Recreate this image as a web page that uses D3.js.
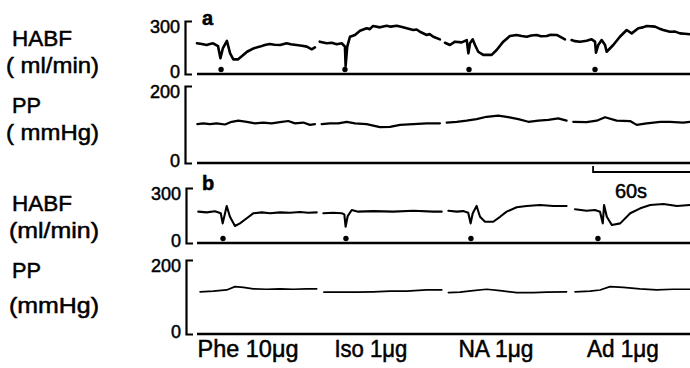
<!doctype html>
<html lang="en">
<head>
<meta charset="utf-8">
<script src="https://d3js.org/d3.v7.min.js"></script>
<style>
  body { margin: 0; background: #fff; }
  text { font-family: "Liberation Sans", Arial, Helvetica, sans-serif; fill: #000; stroke: #000; stroke-width: 0.5px; }
</style>
</head>
<body>
<div id="chart"></div>
<script>
// Size
var width = 690
var height = 368

// Drugs given, one per segment
var drugs = ["Phe 10\u03bcg", "Iso 1\u03bcg", "NA 1\u03bcg", "Ad 1\u03bcg"]
var drugLabelWidth = [101, 73, 75, 72]

// Injection times (s from start of record)
var injA = [14.9, 91.6, 168.4, 246.4]
var injB = [16.1, 92.2, 169.6, 248.2]

// Time scale bar (s)
var scaleBarStart = 245.2
var scaleBarSeconds = 60

// HABF panel a (ml/min): [time s, value]
var habfA = [
  [[0,174],[3,170],[6,164],[8,170],[10,174],[13,158],[14.5,89],[16,145],[18.5,188],[20.5,117],[22.5,83],[25.5,83],[31,126],
   [35,145],[39,155],[42,164],[45,170],[48,166],[51.5,164],[55.5,174],[58,168],[61.5,164],[65,160],[68,155],[71,140],[73,151]],
  [[76,183],[80.3,174],[83.4,177],[86.5,168],[89.6,174],[91.6,155],[92,45],[93,155],[94.7,211],[97.8,221],
   [100.9,245],[105,259],[107,254],[109,272],[113.3,264],[117.4,273],[120,268],[123.6,273],[127,266],[129.8,259],[133.9,249],[136,252],[138,239],
   [142.2,221],[144,226],[146.3,211],[150.4,196]],
  [[153.5,177],[156.6,164],[159.7,183],[163.9,179],[167,192],[168,117],[169,174],[170.7,196],[172.1,164],
   [174.1,126],[177.2,108],[182.4,108],[185.5,136],[189.6,183],[193.7,215],[197.9,221],[201,215],[204.1,211],[207,218],
   [210.3,221],[213,214],[216.5,215],[219,222],[222.7,221],[227.8,196]],
  [[231.9,192],[234,186],[237.1,183],[241.2,188],[244.3,196],[246.4,183],[247,121],[248.4,164],[250.5,192],[252.6,164],
   [253.6,126],[257.7,164],[261.8,211],[266,249],[269.1,230],[273.2,259],[276,264],[278.4,272],[283.5,268],[286,258],
   [288.6,249],[292.8,239],[296,240],[299,230],[302,228],[305.2,225]]
]

// PP panel a (mmHg)
var ppA = [
  [[0.2,101],[3.9,103],[8,101],[12.2,103],[17.3,100],[21.5,107],[25.6,110],[30.8,107],[35.9,103],[41,105],
   [46.2,103],[51.4,106],[56.5,109],[60.7,103],[65.8,105],[69.9,99],[73,101]],
  [[77.2,101],[82.3,103],[87.5,103],[92.7,107],[97.8,103],[105,101],[113.3,93],[119.5,94],[125.7,99],
   [133.9,101],[142.2,103],[150.4,103]],
  [[154.6,105],[160.8,107],[166.9,110],[173.1,114],[179.3,120],[186.5,123],[192.7,119],[198.9,114],
   [205.1,107],[211.3,110],[217.5,112],[223.6,116],[228.8,110]],
  [[232.9,107],[241.2,106],[247.4,110],[252.6,119],[259.8,110],[268.1,109],[272.2,99],[278.4,103],
   [286.8,107],[292.8,107],[301,105],[305.2,107]]
]

// HABF panel b (ml/min)
var habfB = [
  [[0.8,171],[6,167],[11.1,173],[14.7,162],[15.9,107],[18.4,202],[20.4,143],[23.5,93],[26.6,107],[30.8,135],
   [34.8,162],[40,167],[45.2,162],[51.4,167],[57.6,165],[63.8,169],[68.9,165],[74.1,167]],
  [[78.2,162],[84.4,165],[89.6,162],[91.2,156],[92,89],[93.3,147],[95.8,180],[99.8,171],[109.1,174],
   [121.5,171],[133.9,176],[146.3,171],[151.5,171]],
  [[155.6,176],[160.8,171],[164.8,174],[167.9,165],[169.4,107],[170.7,162],[173.1,202],[175.2,143],
   [178.3,116],[183.4,116],[187.6,143],[191.7,171],[197.9,195],[204.1,202],[212.3,207],[220.6,202],[228.8,202]],
  [[234,184],[241.2,176],[246.4,180],[249.5,171],[251.2,107],[252,207],[253.7,143],[256.8,98],[262,107],
   [268.2,162],[274.4,189],[280.6,207],[288.8,213],[297.1,202],[305.2,207]]
]

// PP panel b (mmHg)
var ppB = [
  [[1.9,114],[10.1,116],[18.4,119],[23.5,128],[28.7,126],[34.8,122],[43.1,121],[51.4,122],[59.6,121],
   [67.9,122],[74.1,122]],
  [[78.6,113],[88.5,113],[98.8,113],[109.1,114],[119.5,116],[129.8,116],[142.2,119],[151.5,119]],
  [[155.6,112],[162.8,113],[171,117],[179.3,121],[187.6,117],[197.9,112],[208.2,112],[216.5,113],[228.8,114]],
  [[234,114],[243.3,116],[249.5,119],[255.7,128],[263.9,126],[274.2,122],[284.5,119],[294.8,121],[305.2,121]]
]

var svg = d3.select("#chart")
  .append("svg")
  .attr("width", width)
  .attr("height", height)

// Time axis shared by all traces
var x = d3.scaleLinear().domain([0, 305.2]).range([197, 690])

// One entry per strip
var strips = [
  { name: "HABF", unit: "( ml/min)", data: habfA, max: 300, top: 21, bottom: 74, axisX: 185,
    nameY: 46, unitY: 73, unitX: 6, sw: 2.6, inj: injA, panel: "a", panelY: 25 },
  { name: "PP", unit: "( mmHg)", data: ppA, max: 200, top: 86, bottom: 163, axisX: 185,
    nameY: 113, unitY: 140, unitX: 6, sw: 2.2 },
  { name: "HABF", unit: "(ml/min)", data: habfB, max: 300, top: 188, bottom: 243, axisX: 186,
    nameY: 211, unitY: 238, unitX: 9, sw: 2.1, inj: injB, panel: "b", panelY: 190 },
  { name: "PP", unit: "(mmHg)", data: ppB, max: 200, top: 260, bottom: 334, axisX: 186,
    nameY: 278, unitY: 313, unitX: 9, sw: 1.7 }
]

strips.forEach(function(s) {
  var y = d3.scaleLinear().domain([0, s.max]).range([s.bottom, s.top])

  // bracket axis with the two end values
  var ax = svg.append("g")
    .attr("transform", "translate(" + s.axisX + ",0)")
    .call(d3.axisLeft(y).tickValues([0, s.max]).tickSizeInner(0).tickSizeOuter(-7).tickPadding(5))
  ax.select(".domain").attr("stroke", "#000").attr("stroke-width", 2.2)
  ax.selectAll(".tick text")
    .attr("font-size", 18)
    .attr("font-family", "Liberation Sans, Arial, sans-serif")
    .attr("dy", function(d) { return d ? "0.65em" : "0.17em" })

  // zero line under the trace
  svg.append("line")
    .attr("x1", x(0)).attr("x2", width)
    .attr("y1", y(0)).attr("y2", y(0))
    .attr("stroke", "#000").attr("stroke-width", 2.5)

  // trace segments
  var line = d3.line().x(function(d) { return x(d[0]) }).y(function(d) { return y(d[1]) })
  svg.append("g").selectAll("path")
    .data(s.data)
    .enter()
    .append("path")
    .attr("d", line)
    .attr("fill", "none")
    .attr("stroke", "#000")
    .attr("stroke-width", s.sw)
    .attr("stroke-linejoin", "round")
    .attr("stroke-linecap", "round")

  // injection dots
  if (s.inj) {
    svg.append("g").selectAll("circle")
      .data(s.inj)
      .enter()
      .append("circle")
      .attr("cx", function(d) { return x(d) })
      .attr("cy", y(0) - 4.5)
      .attr("r", 2.7)
      .attr("fill", "#000")
    svg.append("text")
      .attr("x", 202).attr("y", s.panelY)
      .attr("font-size", 20).attr("font-weight", "bold")
      .text(s.panel)
  }

  // row labels
  svg.append("text")
    .attr("x", 12).attr("y", s.nameY)
    .attr("font-size", 22)
    .attr("textLength", s.name == "HABF" ? 60 : 29)
    .attr("lengthAdjust", "spacingAndGlyphs")
    .text(s.name)
  svg.append("text")
    .attr("x", s.unitX).attr("y", s.unitY)
    .attr("font-size", 22)
    .attr("textLength", 99 - s.unitX)
    .attr("lengthAdjust", "spacingAndGlyphs")
    .text(s.unit)
})

// 60 s scale bar under panel a
var barY = 172
svg.append("path")
  .attr("d", "M" + x(scaleBarStart) + "," + (barY - 6) + "V" + barY + "H" + x(scaleBarStart + scaleBarSeconds))
  .attr("fill", "none")
  .attr("stroke", "#000")
  .attr("stroke-width", 1.8)
svg.append("text")
  .attr("x", 631).attr("y", 198)
  .attr("text-anchor", "middle")
  .attr("font-size", 20)
  .text(scaleBarSeconds + "s")

// drug labels along the bottom
svg.append("g").selectAll("text")
  .data(drugs)
  .enter()
  .append("text")
  .attr("x", function(d, i) { return x(injB[i]) + 25 })
  .attr("y", 357)
  .attr("text-anchor", "middle")
  .attr("font-size", 23)
  .attr("textLength", function(d, i) { return drugLabelWidth[i] })
  .attr("lengthAdjust", "spacingAndGlyphs")
  .text(function(d) { return d })
</script>
</body>
</html>
